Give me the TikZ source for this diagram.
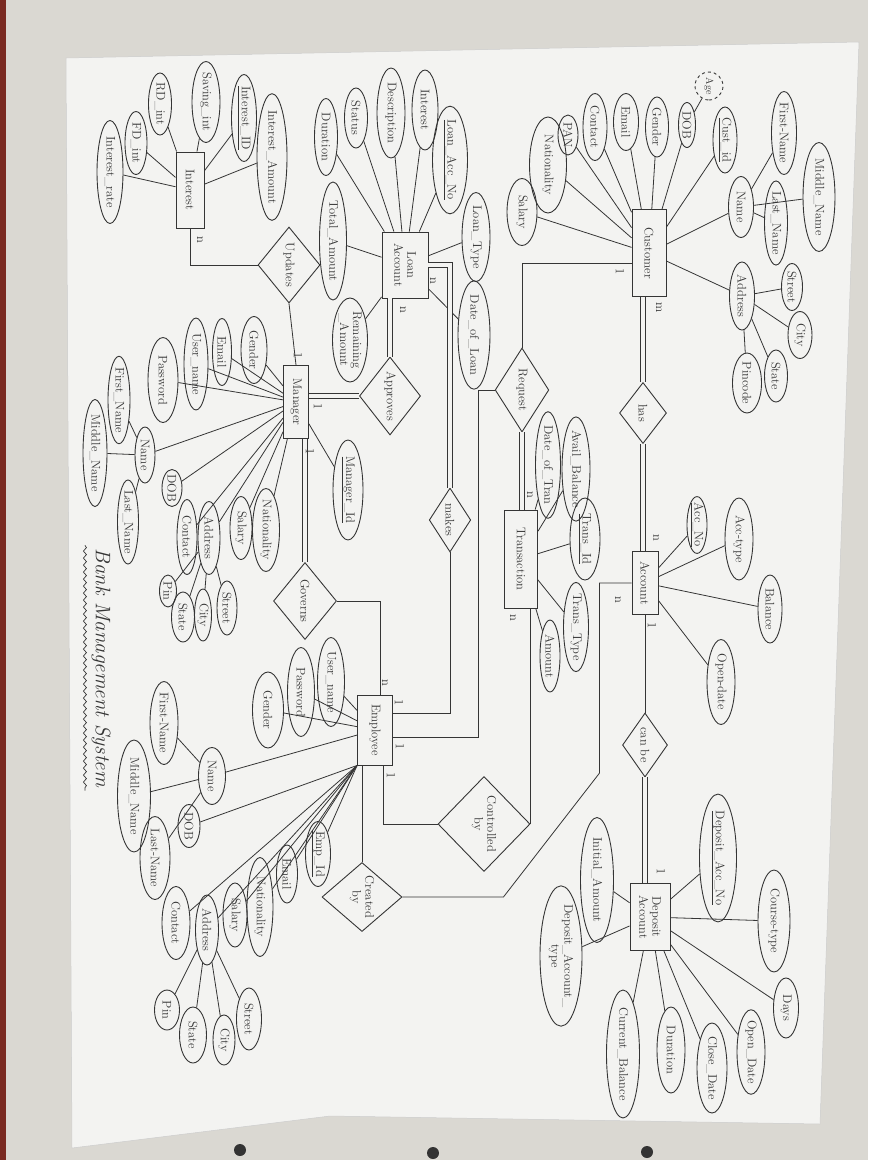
\documentclass[tikz,border=0pt]{standalone}
\usepackage{amsmath}
\usepackage{tikz}
\usetikzlibrary{shapes,shapes.geometric,calc,decorations.pathmorphing}

\definecolor{pencil}{HTML}{353535}
\definecolor{sheet}{HTML}{F3F3F1}
\definecolor{wall}{HTML}{DAD8D2}
\definecolor{rug}{HTML}{7A2A22}

\tikzset{
  sz/.style 2 args={minimum width=#1pt, minimum height=#2pt},
  ent/.style={draw=pencil, rectangle, rotate=-90, inner sep=1pt, align=center,
    text=pencil, line width=0.9pt},
  rel/.style={draw=pencil, diamond, rotate=-90, inner sep=0pt, align=center,
    text=pencil, line width=0.9pt},
  attr/.style={draw=pencil, ellipse, rotate=-90, inner sep=-2pt, align=center,
    text=pencil, line width=0.9pt},
  card/.style={rotate=-90, inner sep=0pt, text=pencil},
  wire/.style={draw=pencil, line width=0.8pt},
  dbl/.style={wire, double=sheet, double distance=3.5pt},
}

\begin{document}
\begin{tikzpicture}[x=1pt, y=1pt, yscale=-1,
  every node/.style={font=\fontsize{12.5}{13}\selectfont}]
\useasboundingbox (0,0) rectangle (868,1160);
% photo background and sheet
\path[fill=wall] (0,0) rectangle (868,1160);
\path[fill=rug] (0,0) rectangle (6,1160);
\path[fill=sheet, draw=white!80!black, line width=0.5pt]
  (66,58) -- (859,42) -- (820,1124) -- (330,1116) -- (72,1148) -- cycle;
\path[fill=black!80] (240,1150) circle (6) (433,1153) circle (6) (647,1152) circle (6);

% entities
\node[ent, sz={76}{28}] (interest) at (190,190) {Interest};
\node[ent, sz={66}{46}] (loanacc) at (405,265) {Loan\\Account};
\node[ent, sz={87}{34}] (customer) at (649,253) {Customer};
\node[ent, sz={73}{25}] (manager) at (296,402) {Manager};
\node[ent, sz={98}{33}] (trans) at (521,559) {Transaction};
\node[ent, sz={63}{26}] (account) at (645,583) {Account};
\node[ent, sz={67}{40}] (deposit) at (650,917) {Deposit\\Account};
\node[ent, sz={70}{35}] (employee) at (375,730) {Employee};

% relationships
\node[rel, sz={76}{62}] (updates) at (289,265) {Updates};
\node[rel, sz={78}{45}] (approves) at (390,396) {Approves};
\node[rel, sz={77}{63}] (governs) at (305,601) {Governs};
\node[rel, sz={64}{36}] (makes) at (450,520) {makes};
\node[rel, sz={84}{49}] (request) at (522,390) {Request};
\node[rel, sz={61}{47}] (has) at (643,413) {has};
\node[rel, sz={64}{45}] (canbe) at (645,745) {can be};
\node[rel, sz={95}{92}] (controlled) at (484,824) {Controlled\\by};
\node[rel, sz={69}{80}] (created) at (362,897) {Created\\by};

% interest attributes
\node[attr, sz={103}{26}] (irate) at (110,172) {Interest\_rate};
\node[attr, sz={63}{22}] (ifd) at (136,143) {FD\_int};
\node[attr, sz={62}{23}] (ird) at (160,104) {RD\_int};
\node[attr, sz={81}{28}] (isav) at (206,102) {Saving\_int};
\node[attr, sz={87}{25}] (iid) at (244,118) {\underline{Interest\_ID}};
\node[attr, sz={121}{30}] (iamt) at (272,157) {Interest\_Amount};
\foreach \a in {irate,ifd,ird,isav,iid,iamt}
  \draw[wire] (\a) -- (interest);

% loan attributes
\node[attr, sz={60}{23}] (lstatus) at (356,118) {Status};
\node[attr, sz={90}{28}] (ldesc) at (391,113) {Description};
\node[attr, sz={80}{26}] (lint) at (425,110) {Interest};
\node[attr, sz={105}{35}] (lacc) at (450,160) {\underline{Loan\_Acc\_No}};
\node[attr, sz={89}{28}] (ltype) at (476,237) {Loan\_Type};
\node[attr, sz={95}{32}] (ldate) at (474,335) {Date\_of\_Loan};
\node[attr, sz={77}{23}] (ldur) at (326,137) {Duration};
\node[attr, sz={118}{27}] (ltotal) at (333,241) {Total\_Amount};
\node[attr, sz={84}{35}] (lrem) at (350,340) {Remaining\\\_Amount};
\foreach \a in {lstatus,ldesc,lint,lacc,ltype,ldate,ldur,ltotal,lrem}
  \draw[wire] (\a) -- (loanacc);

% customer attributes
\node[attr, sz={66}{24}] (cid) at (725,140) {\underline{Cust\_id}};
\node[attr, sz={45}{17}] (cdob) at (687,125) {DOB};
\node[attr, sz={28}{28}, dashed, font=\fontsize{10}{11}\selectfont] (cage) at (709,86) {Age};
\node[attr, sz={60}{23}] (cgender) at (657,127) {Gender};
\node[attr, sz={57}{25}] (cemail) at (626,122) {Email};
\node[attr, sz={67}{24}] (ccontact) at (595,127) {Contact};
\node[attr, sz={40}{20}] (cpan) at (568,135) {PAN};
\node[attr, sz={96}{37}] (cnat) at (548,165) {Nationality};
\node[attr, sz={67}{30}] (csal) at (522,212) {Salary};
\node[attr, sz={61}{25}] (cname) at (741,207) {Name};
\node[attr, sz={83}{25}] (cfirst) at (784,133) {First-Name};
\node[attr, sz={109}{32}] (cmid) at (819,197) {Middle\_Name};
\node[attr, sz={80}{23}] (clast) at (776,223) {Last\_Name};
\node[attr, sz={68}{25}] (caddr) at (742,296) {Address};
\node[attr, sz={47}{21}] (cstreet) at (792,287) {Street};
\node[attr, sz={47}{24}] (ccity) at (800,335) {City};
\node[attr, sz={52}{23}] (cstate) at (776,376) {State};
\node[attr, sz={60}{29}] (cpin) at (747,383) {Pincode};
\foreach \a in {cid,cdob,cgender,cemail,ccontact,cpan,cnat,csal,cname,caddr}
  \draw[wire] (\a) -- (customer);
\draw[wire] (cage) -- (cdob);
\foreach \a in {cfirst,cmid,clast}
  \draw[wire] (\a) -- (cname);
\foreach \a in {cstreet,ccity,cstate,cpin}
  \draw[wire] (\a) -- (caddr);

% manager attributes
\node[attr, sz={67}{26}] (mgender) at (254,350) {Gender};
\node[attr, sz={67}{19}] (memail) at (222,352) {Email};
\node[attr, sz={92}{24}] (muser) at (196,364) {User\_name};
\node[attr, sz={85}{30}] (mpass) at (163,380) {Password};
\node[attr, sz={56}{20}] (mname) at (145,455) {Name};
\node[attr, sz={76}{22}] (mfirst) at (119,400) {First\_Name};
\node[attr, sz={107}{24}] (mmid) at (95,453) {Middle\_Name};
\node[attr, sz={81}{21}] (mlast) at (128,522) {Last\_Name};
\node[attr, sz={37}{20}] (mdob) at (172,488) {DOB};
\node[attr, sz={75}{20}] (mcontact) at (187,537) {Contact};
\node[attr, sz={73}{22}] (maddr) at (209,538) {Address};
\node[attr, sz={63}{22}] (msal) at (241,528) {Salary};
\node[attr, sz={83}{27}] (mnat) at (266,530) {Nationality};
\node[attr, sz={100}{30}] (mid) at (348,490) {\underline{Manager\_Id}};
\node[attr, sz={54}{20}] (mstreet) at (227,608) {Street};
\node[attr, sz={52}{17}] (mcity) at (203,615) {City};
\node[attr, sz={50}{23}] (mstate) at (183,617) {State};
\node[attr, sz={32}{17}] (mpin) at (168,591) {Pin};
\foreach \a in {mgender,memail,muser,mpass,mname,mdob,mcontact,maddr,msal,mnat,mid}
  \draw[wire] (\a) -- (manager);
\foreach \a in {mfirst,mmid,mlast}
  \draw[wire] (\a) -- (mname);
\foreach \a in {mstreet,mcity,mstate,mpin}
  \draw[wire] (\a) -- (maddr);

% transaction attributes
\node[attr, sz={94}{25}] (tdate) at (548,465) {Date\_of\_Tran};
\node[attr, sz={92}{28}] (tbal) at (576,469) {Avail\_Balance};
\node[attr, sz={82}{30}] (tid) at (585,539) {\underline{Trans\_Id}};
\node[attr, sz={81}{25}] (ttype) at (576,627) {Trans\_Type};
\node[attr, sz={72}{20}] (tamt) at (550,656) {Amount};
\foreach \a in {tdate,tbal,tid,ttype,tamt}
  \draw[wire] (\a) -- (trans);

% account attributes
\node[attr, sz={55}{20}] (ano) at (697,525) {\underline{Acc\_No}};
\node[attr, sz={82}{28}] (atype) at (739,539) {Acc-type};
\node[attr, sz={68}{24}] (abal) at (770,609) {Balance};
\node[attr, sz={85}{28}] (aopen) at (721,682) {Open-date};
\foreach \a in {ano,atype,abal,aopen}
  \draw[wire] (\a) -- (account);

% deposit account attributes
\node[attr, sz={111}{37}] (dno) at (718,858) {\underline{Deposit\_Acc\_No}};
\node[attr, sz={102}{32}] (dcourse) at (774,921) {Course-type};
\node[attr, sz={60}{25}] (ddays) at (786,1008) {Days};
\node[attr, sz={83}{28}] (dopen) at (751,1052) {Open\_Date};
\node[attr, sz={90}{30}] (dclose) at (712,1068) {Close\_Date};
\node[attr, sz={86}{28}] (ddur) at (671,1050) {Duration};
\node[attr, sz={128}{33}] (dcur) at (623,1054) {Current\_Balance};
\node[attr, sz={125}{33}] (dinit) at (597,880) {Initial\_Amount};
\node[attr, sz={132}{42}] (dtype) at (561,956) {Deposit\_Account\_\\type};
\foreach \a in {dno,dcourse,ddays,dopen,dclose,ddur,dcur,dinit,dtype}
  \draw[wire] (\a) -- (deposit);

% employee attributes
\node[attr, sz={89}{27}] (euser) at (331,682) {User\_name};
\node[attr, sz={89}{27}] (epass) at (301,692) {Password};
\node[attr, sz={76}{31}] (egender) at (268,710) {Gender};
\node[attr, sz={57}{27}] (ename) at (212,776) {Name};
\node[attr, sz={83}{28}] (efirst) at (164,723) {First-Name};
\node[attr, sz={112}{33}] (emid) at (134,796) {Middle\_Name};
\node[attr, sz={83}{30}] (elast) at (155,858) {Last-Name};
\node[attr, sz={43}{22}] (edob) at (189,826) {DOB};
\node[attr, sz={65}{25}] (eid) at (318,854) {\underline{Emp\_Id}};
\node[attr, sz={58}{21}] (eemail) at (287,874) {Email};
\node[attr, sz={99}{26}] (enat) at (260,907) {Nationality};
\node[attr, sz={64}{24}] (esal) at (235,915) {Salary};
\node[attr, sz={70}{23}] (eaddr) at (207,930) {Address};
\node[attr, sz={73}{28}] (econtact) at (176,923) {Contact};
\node[attr, sz={40}{25}] (epin) at (167,1010) {Pin};
\node[attr, sz={56}{27}] (estate) at (193,1035) {State};
\node[attr, sz={50}{22}] (ecity) at (224,1040) {City};
\node[attr, sz={62}{25}] (estreet) at (249,1019) {Street};
\foreach \a in {euser,epass,egender,ename}
  \draw[wire] (\a) -- (employee);
\foreach \a in {edob,eid,eemail,enat,esal,eaddr,econtact}
  \draw[wire] (\a) -- (employee.south east);
\foreach \a in {efirst,emid,elast}
  \draw[wire] (\a) -- (ename);
\foreach \a in {epin,estate,ecity,estreet}
  \draw[wire] (\a) -- (eaddr);

% relationship connectors
\draw[wire] (interest.east) |- (updates.south);
\draw[wire] (updates.east) -- (manager.west);
\draw[dbl] (loanacc.north) -| (makes.west);
\draw[wire] (makes.east) |- ($(employee.north)+(0,-17)$);
\draw[dbl] (approves.west) -- (approves.west |- loanacc.east);
\draw[dbl] (approves.south) -- (approves.south -| manager.north);
\draw[dbl] (governs.west) -- (governs.west |- manager.east);
\draw[wire] (governs.north) -| ($(employee.west)+(5,0)$);
\draw[wire] ($(employee.north)+(0,7)$) -| ($(request.south)+(-16,0)$) -- (request.south);
\draw[wire] (request.west) |- ($(customer.south)+(0,10)$);
\draw[dbl] (request.east) -- (request.east |- trans.west);
\draw[dbl] (has.west) -- (has.west |- customer.east);
\draw[dbl] (has.east) -- (has.east |- account.west);
\draw[wire] (canbe.west) -- (canbe.west |- account.east);
\draw[dbl] (canbe.east) -- (canbe.east |- deposit.west);
\draw[wire] ($(employee.east)+(8,0)$) |- (controlled.south);
\draw[wire] (controlled.north) -- (controlled.north |- trans.east);
\draw[wire] (created.west) -- (created.west |- employee.east);
\draw[wire] (created.north) -- ($(created.north)+(101,0)$)
  -- ($(account.south)+(-32,190)$) |- (account.south);

% cardinalities
\node[card] (k1) at (200,240) {n};
\node[card] (k2) at (298,356) {1};
\node[card] (k3) at (433,281) {n};
\node[card] (k4) at (403,310) {n};
\node[card] (k5) at (318,407) {1};
\node[card] (k6) at (310,452) {1};
\node[card] (k7) at (385,683) {n};
\node[card] (k8) at (399,703) {1};
\node[card] (k9) at (400,747) {1};
\node[card] (k10) at (391,776) {1};
\node[card] (k11) at (620,272) {1};
\node[card] (k12) at (530,495) {n};
\node[card] (k13) at (659,308) {m};
\node[card] (k14) at (656,538) {n};
\node[card] (k15) at (618,600) {n};
\node[card] (k16) at (652,626) {1};
\node[card] (k17) at (661,872) {1};
\node[card] (k18) at (513,618) {n};

% title
\node[rotate=-90, text=pencil, font=\fontsize{21}{24}\selectfont\itshape]
  (title) at (101,668) {Bank Management System};
\draw[pencil, line width=0.7pt, decorate,
  decoration={snake, amplitude=1.5pt, segment length=7pt}]
  ($(title.south west)+(-3,0)$) -- ($(title.south east)+(-3,0)$);
\end{tikzpicture}
\end{document}
